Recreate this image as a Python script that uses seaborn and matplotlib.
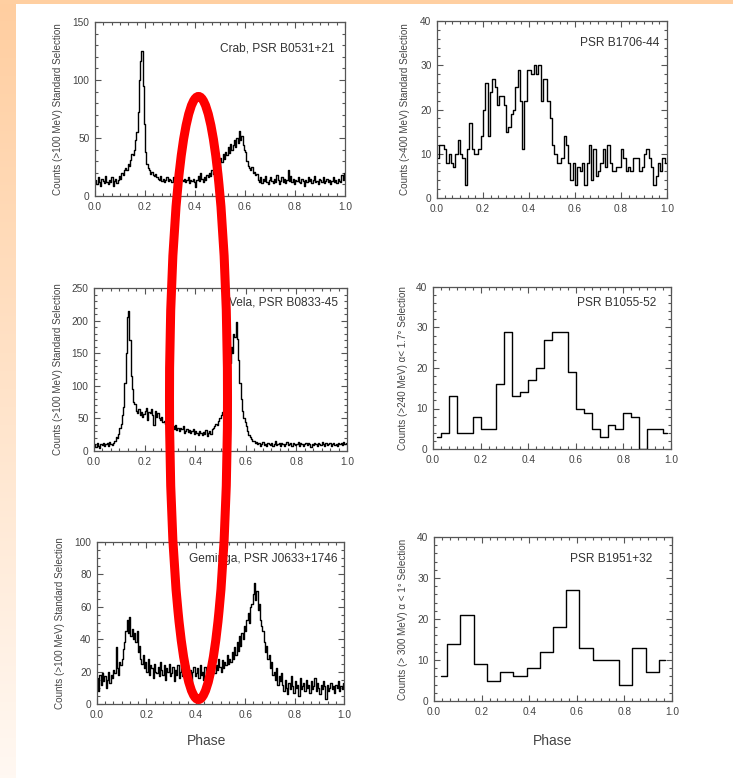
import numpy as np
import matplotlib
matplotlib.use("Agg")
import matplotlib.pyplot as plt
from matplotlib.ticker import MultipleLocator, AutoMinorLocator
from matplotlib.patches import Ellipse
import seaborn as sns

# ---------------- data (counts per phase bin) ----------------
crab_counts = [14,10,16,12,9,15,13,11,17,12,10,14,12,16,9,13,15,11,14,17,
               15,20,18,22,24,22,28,26,31,36,35,40,48,55,72,100,116,125,95,62,
               38,28,24,22,19,21,18,17,19,16,
               15,14,17,13,15,12,14,16,13,15,14,12,16,13,11,14,15,13,16,14,
               13,15,12,14,16,11,14,13,15,12,8,14,17,13,20,15,12,16,14,18,
               16,20,17,22,19,24,21,26,28,24,
               33,29,36,32,38,35,42,37,45,40,
               44,48,42,50,46,56,48,52,44,40,
               38,30,26,24,22,25,20,21,18,19,
               14,12,16,11,15,13,17,12,10,14,16,13,11,15,12,18,14,10,13,16,
               12,15,11,14,22,13,17,12,15,10,14,13,16,12,11,15,13,9,14,12,
               16,13,15,11,14,17,12,13,10,15,14,12,16,11,13,15,12,14,10,13,
               16,12,14,11,15,13,12,18,14,20]

vela_counts = [10,6,12,8,4,11,9,13,7,10,12,8,14,11,9,13,
               16,22,20,26,35,42,55,68,105,150,205,215,170,115,95,75,
               72,62,58,64,55,60,52,57,
               62,66,48,60,58,64,55,40,62,52,58,50,
               48,52,44,46,42,45,40,38,
               42,36,38,34,40,32,36,30,35,33,38,28,31,34,29,32,27,30,33,26,
               30,28,25,31,27,24,29,26,32,23,28,30,26,33,
               35,38,42,40,46,50,55,60,58,52,
               60,80,110,135,160,150,180,175,198,172,
               140,105,80,62,50,45,38,30,
               25,22,18,16,15,12,14,11,
               12,8,10,14,9,11,7,13,10,9,12,8,11,15,9,10,13,8,12,10,
               7,11,14,9,10,12,8,13,11,9,10,14,7,12,10,8,11,13,9,12,
               10,6,11,9,13,10,8,12,11,9,14,10,7,12,9,11,13,8,10,12,
               9,11,7,13,10,12,9,14,11,13]

geminga_counts = [16,8,18,12,19,14,17,10,15,20,13,18,
                  16,21,19,35,22,18,26,24,
                  28,34,38,45,52,44,54,42,46,40,44,38,45,32,
                  36,28,25,30,22,26,
                  20,28,18,24,22,16,25,20,19,23,17,26,21,18,24,15,22,20,25,17,
                  19,23,14,21,18,24,16,20,25,17,22,15,19,24,18,21,13,20,23,17,
                  19,22,16,24,18,20,15,23,19,21,
                  22,18,25,20,26,19,24,21,28,23,20,27,22,26,24,30,25,28,26,32,
                  28,35,30,38,33,42,36,44,40,48,
                  45,52,56,50,60,62,68,75,64,70,
                  58,62,52,48,45,38,32,36,28,30,
                  22,26,18,20,15,22,12,17,14,19,
                  12,8,15,10,6,13,9,17,11,7,14,10,12,5,16,9,11,13,8,15,
                  10,12,7,14,9,11,16,8,13,10,6,12,9,14,11,3,12,8,10,13,
                  9,11,7,12,10,14,8,11,9,13]

b1706_counts = [9,12,12,11,8,10,8,7,10,13,
                10,9,3,11,17,11,10,10,11,14,
                20,26,14,24,27,25,21,23,23,21,
                15,16,19,20,25,29,22,11,22,29,
                29,28,30,28,30,22,27,27,22,18,
                12,10,8,8,9,14,12,8,4,8,
                3,7,6,8,3,8,12,4,11,5,
                6,8,11,7,12,8,6,6,7,7,
                11,9,6,7,6,9,9,9,6,7,
                10,11,9,7,3,5,8,6,9,8]

b1055_counts = [3,4,13,4,4,8,5,5,16,29,13,14,17,20,27,29,29,19,10,9,
                5,3,6,5,9,8,0,5,5,4]

b1951_counts = [6,14,21,9,5,7,6,8,12,18,27,13,10,10,4,13,7,10]

labels = ["Crab, PSR B0531+21", "PSR B1706-44",
          "Vela, PSR B0833-45", "PSR B1055-52",
          "Geminga, PSR J0633+1746", "PSR B1951+32"]
ylabels = ["Counts (>100 MeV) Standard Selection",
           "Counts (>400 MeV) Standard Selection",
           "Counts (>100 MeV) Standard Selection",
           "Counts (>240 MeV) \u03b1< 1.7\u00b0 Selection",
           "Counts (>100 MeV) Standard Selection",
           "Counts (> 300 MeV) \u03b1 < 1\u00b0 Selection"]
ymax = [150, 40, 250, 40, 100, 40]
ymajor = [50, 10, 50, 10, 20, 10]
series = [crab_counts, b1706_counts, vela_counts, b1055_counts,
          geminga_counts, b1951_counts]

# ---------------- layout ----------------
W, H = 733, 778
sns.set_theme(style="ticks")
plt.rcParams['font.family'] = ['Liberation Sans', 'DejaVu Sans']

fig = plt.figure(figsize=(W / 100, H / 100), dpi=100)
fig.patch.set_facecolor("white")

# peach frame (left gradient strip and top strip)
bg = fig.add_axes([0, 0, 16 / W, 1])
grad = np.linspace(0, 1, 256)[:, None]
top_c = np.array([255, 206, 160]) / 255
bot_c = np.array([255, 248, 242]) / 255
img = top_c[None, None, :] * (1 - grad[:, :, None]) + bot_c[None, None, :] * grad[:, :, None]
bg.imshow(img, aspect="auto", extent=[0, 1, 0, 1])
bg.axis("off")
topstrip = fig.add_axes([0, 1 - 3.5 / H, 1, 3.5 / H])
topstrip.set_facecolor((1.0, 0.81, 0.63))
topstrip.set_xticks([]); topstrip.set_yticks([])
for s in topstrip.spines.values():
    s.set_visible(False)

# axes boxes in pixels: left, top, right, bottom
boxes = [(95, 22, 345, 196), (437, 21, 667, 198),
         (94, 288, 347, 451), (433, 287, 671, 449),
         (97, 542, 344, 704), (434, 537, 672, 701)]
text_pos = [(0.96, 0.85), (0.965, 0.876), (0.965, 0.914),
            (0.937, 0.90), (0.972, 0.895), (0.916, 0.866)]
ylab_x = [58, 405, 58, 403, 60, 403]

for i, (l, t, r, b) in enumerate(boxes):
    ax = fig.add_axes([l / W, 1 - b / H, (r - l) / W, (b - t) / H])
    y = np.array(series[i], dtype=float)
    n = len(y)
    x = (np.arange(n) + 0.5) / n
    sns.lineplot(x=x, y=y, ax=ax, color="black", lw=1.0,
                 drawstyle="steps-mid", estimator=None)
    ax.set_xlim(0, 1)
    ax.set_ylim(0, ymax[i])
    ax.xaxis.set_major_locator(MultipleLocator(0.2))
    ax.xaxis.set_minor_locator(AutoMinorLocator(6))
    ax.yaxis.set_major_locator(MultipleLocator(ymajor[i]))
    ax.yaxis.set_minor_locator(AutoMinorLocator(4 if ymajor[i] == 20 else 5))
    ax.set_xticklabels([f"{v:.1f}" for v in ax.get_xticks()])
    ax.tick_params(which="both", direction="in", top=True, right=True,
                   color="#555555", width=0.8, labelsize=7.3,
                   labelcolor="#444444", pad=4)
    ax.tick_params(which="major", length=4)
    ax.tick_params(which="minor", length=2)
    for s in ax.spines.values():
        s.set_color("#555555")
        s.set_linewidth(0.9)
    ax.set_xlabel("")
    ax.set_ylabel("")
    ax.text(text_pos[i][0], text_pos[i][1], labels[i], transform=ax.transAxes,
            ha="right", va="center", fontsize=8.6, color="#333333")
    fig.text(ylab_x[i] / W, 1 - ((t + b) / 2) / H, ylabels[i], rotation=90,
             ha="center", va="center", fontsize=7.1, color="#444444")

fig.text(207 / W, 1 - 741 / H, "Phase", ha="center", va="center",
         fontsize=10, color="#444444")
fig.text(553 / W, 1 - 741 / H, "Phase", ha="center", va="center",
         fontsize=10, color="#444444")

# red highlight ellipse
ell = Ellipse((198.5 / W, 1 - 398 / H), 58 / W, 603 / H,
              transform=fig.transFigure, fill=False, edgecolor="#ff0000",
              lw=6.5, zorder=100)
fig.add_artist(ell)

fig.savefig("out.png", dpi=100)
